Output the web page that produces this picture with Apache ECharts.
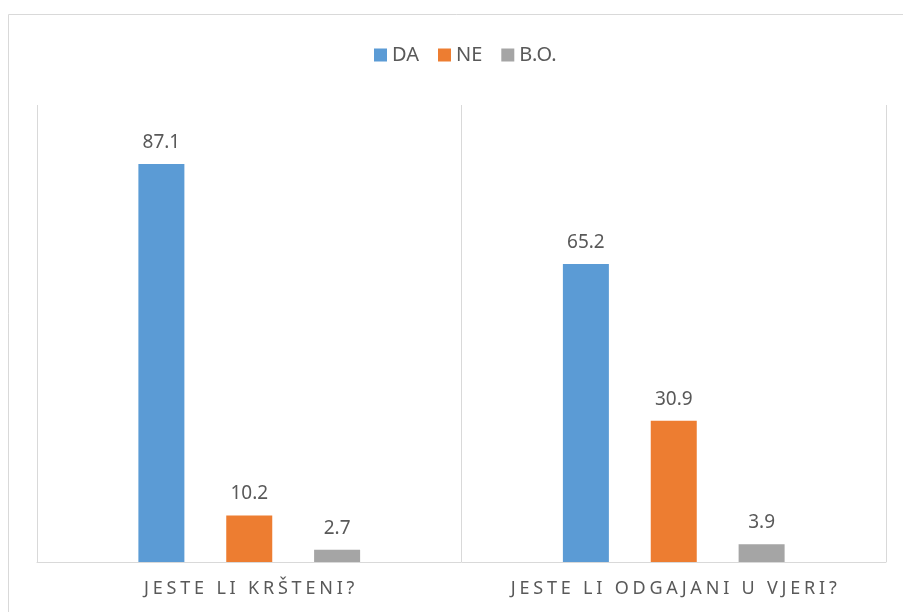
<!DOCTYPE html>
<html>
<head>
<meta charset="utf-8">
<script src="https://cdn.jsdelivr.net/npm/echarts@6/dist/echarts.min.js"></script>
<style>
html,body{margin:0;padding:0;background:#fff;}
#chart{width:903px;height:612px;}
</style>
</head>
<body>
<div id="chart"></div>
<script>
var categories = ['JESTE LI KRŠTENI?', 'JESTE LI ODGAJANI U VJERI?'];
var seriesNames = ['DA', 'NE', 'B.O.'];
var valuesDA = [87.1, 65.2];
var valuesNE = [10.2, 30.9];
var valuesBO = [2.7, 3.9];

var colors = ['#5B9BD5', '#ED7D31', '#A5A5A5'];
var textColor = '#595959';
var font = 'Noto Sans';

function spaced(s) {
  return s.split('').map(function (ch) { return '{c|' + ch + '}'; }).join('');
}

var chart = echarts.init(document.getElementById('chart'));
var dataSets = [valuesDA, valuesNE, valuesBO];
chart.setOption({
  animation: false,
  color: colors,
  graphic: [{
    type: 'rect',
    shape: { x: 8.5, y: 14.5, width: 1200, height: 1200 },
    style: { fill: 'none', stroke: '#D9D9D9', lineWidth: 1 },
    silent: true
  }],
  legend: {
    data: seriesNames,
    top: 40,
    left: 369,
    itemWidth: 13,
    itemHeight: 13,
    itemGap: 19,
    icon: 'rect',
    textStyle: { color: textColor, fontFamily: font, fontSize: 20, padding: [0, 0, 0, 0] }
  },
  grid: { left: 37, right: 17, top: 105, bottom: 50, containLabel: false },
  xAxis: {
    type: 'category',
    data: categories,
    axisLine: { lineStyle: { color: '#D9D9D9', width: 1 } },
    axisTick: { show: false },
    splitLine: { show: true, lineStyle: { color: '#D9D9D9', width: 1 } },
    axisLabel: {
      interval: 0,
      hideOverlap: false,
      margin: 18,
      formatter: function (v) { return spaced(v); },
      rich: {
        c: { color: textColor, fontFamily: font, fontSize: 18, padding: [0, 1.9, 0, 1.9] }
      }
    }
  },
  yAxis: {
    type: 'value',
    min: 0,
    max: 100,
    show: false,
    splitLine: { show: false }
  },
  series: seriesNames.map(function (name, i) {
    return {
      name: name,
      type: 'bar',
      data: dataSets[i],
      barWidth: 46,
      barGap: '91%',
      label: {
        show: true,
        position: 'top',
        distance: 12,
        color: textColor,
        fontFamily: font,
        fontSize: 19
      }
    };
  })
});
</script>
</body>
</html>
